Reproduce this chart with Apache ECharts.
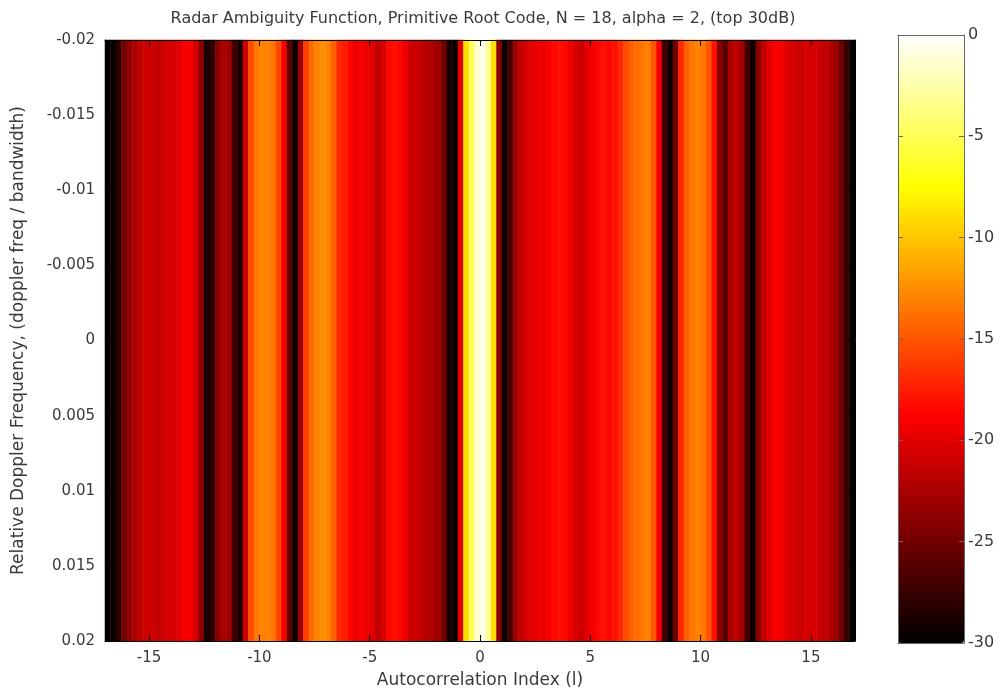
<!DOCTYPE html>
<html>
<head>
<meta charset="utf-8">
<script src="https://cdn.jsdelivr.net/npm/echarts@6/dist/echarts.min.js"></script>
<style>
html,body{margin:0;padding:0;background:#fff;}
#c{width:1006px;height:694px;}
</style>
</head>
<body>
<div id="c"></div>
<script>
// ---- data ----
// cell centres along the autocorrelation index, 0.25 apart, from -16.875 to 16.875
var xStep = 0.25;
var xCenters = [];
for (var i = 0; i < 136; i++) xCenters.push(+(-16.875 + i * xStep).toFixed(3));
var dopplerRows = ['all'];
// level in dB (top 30 dB) for each cell centre
var levelDb = [
  -30, -29.5, -28, -25,
  -23.5, -22.5, -21.5, -21,
  -21, -21.5, -21, -20.5,
  -20.5, -20, -19, -19,
  -20.5, -24, -29, -28,
  -24, -22.5, -23, -27,
  -29, -21, -15.5, -13.5,
  -13, -13, -13.5, -15.5,
  -19, -26, -29.5, -23,
  -16, -14, -13, -12.5,
  -13, -14.5, -17, -17.5,
  -18.5, -19.5, -19, -19.5,
  -20, -21.5, -20.5, -18.5,
  -18, -18.5, -19.5, -21,
  -21, -21.5, -22, -22.5,
  -23, -25, -29, -29.5,
  -20, -9, -5, -1.5,
  -0.5, -3, -9, -24,
  -29.5, -27, -23, -21.5,
  -20.5, -20, -19.5, -19.5,
  -19, -18.5, -18, -18.5,
  -19.5, -20.5, -21, -20,
  -19, -18.5, -18, -18.5,
  -18, -17, -15.5, -14.5,
  -14, -13.5, -13, -15,
  -19, -27, -29.5, -25,
  -17, -14.5, -13.5, -13,
  -13.5, -15, -18, -24,
  -26, -22.5, -21.5, -23,
  -27, -29.5, -24, -21.5,
  -20, -19, -19, -20,
  -20.5, -21, -21, -20.5,
  -20.5, -21, -21.5, -22,
  -23, -25, -27.5, -30
];
var xTicks = [-15, -10, -5, 0, 5, 10, 15];
var yTicks = [-0.02, -0.015, -0.01, -0.005, 0, 0.005, 0.01, 0.015, 0.02];
var cbTicks = [0, -5, -10, -15, -20, -25, -30];
var hotColors = ['#000000', '#550000', '#aa0000', '#ff0000', '#ff5500', '#ffaa00', '#ffff00', '#ffff80', '#ffffff'];

var heatData = [];
for (var r = 0; r < dopplerRows.length; r++) {
  for (var k = 0; k < xCenters.length; k++) heatData.push([k, r, levelDb[k]]);
}

var FONT = 'DejaVu Sans';
var TXT = '#3a3a3a';
var chart = echarts.init(document.getElementById('c'), null, {renderer: 'canvas'});
chart.setOption({
  animation: false,
  backgroundColor: '#fff',
  textStyle: {fontFamily: FONT},
  title: {
    text: 'Radar Ambiguity Function, Primitive Root Code, N = 18, alpha = 2, (top 30dB)',
    left: 478, top: 6, textAlign: 'center',
    textStyle: {fontSize: 16, fontWeight: 'normal', color: TXT, fontFamily: FONT}
  },
  grid: [
    {left: 105, right: 151, top: 40, bottom: 51, containLabel: false},
    {left: 898, width: 66, top: 35, bottom: 51, containLabel: false}
  ],
  visualMap: {
    type: 'continuous', min: -30, max: 0, seriesIndex: 0,
    calculable: false, show: true, orient: 'vertical',
    left: 898, top: 35, itemWidth: 66, itemHeight: 608, padding: 0,
    text: null, showLabel: false, z: 2,
    inRange: {color: hotColors}
  },
  xAxis: [
    {type: 'category', gridIndex: 0, data: xCenters, show: false, boundaryGap: true},
    {type: 'value', gridIndex: 0, min: -17, max: 17, position: 'bottom', z: 10,
      axisLine: {show: true, onZero: false, lineStyle: {color: '#000', width: 1}},
      axisTick: {show: true, inside: true, length: 6, customValues: xTicks, lineStyle: {color: '#000'}},
      axisLabel: {show: true, customValues: xTicks, fontSize: 15, color: TXT, margin: 10, fontFamily: FONT},
      splitLine: {show: false},
      name: 'Autocorrelation Index (l)', nameLocation: 'middle', nameGap: 31,
      nameTextStyle: {fontSize: 17, color: TXT, fontFamily: FONT}
    },
    {type: 'value', gridIndex: 0, min: -17, max: 17, position: 'top', z: 10,
      axisLine: {show: true, onZero: false, lineStyle: {color: '#000', width: 1}},
      axisTick: {show: true, inside: true, length: 6, customValues: xTicks, lineStyle: {color: '#000'}},
      axisLabel: {show: false}, splitLine: {show: false}
    },
    {type: 'value', gridIndex: 1, min: 0, max: 1, show: true, position: 'bottom', z: 10,
      axisLine: {show: true, onZero: false, lineStyle: {color: '#666'}},
      axisTick: {show: false}, axisLabel: {show: false}, splitLine: {show: false}},
    {type: 'value', gridIndex: 1, min: 0, max: 1, show: true, position: 'top', z: 10,
      axisLine: {show: true, onZero: false, lineStyle: {color: '#666'}},
      axisTick: {show: false}, axisLabel: {show: false}, splitLine: {show: false}}
  ],
  yAxis: [
    {type: 'category', gridIndex: 0, data: dopplerRows, show: false, boundaryGap: true},
    {type: 'value', gridIndex: 0, min: -0.02, max: 0.02, interval: 0.005, inverse: true, position: 'left', z: 10,
      axisLine: {show: true, onZero: false, lineStyle: {color: '#000', width: 1}},
      axisTick: {show: true, inside: true, length: 6, customValues: yTicks, lineStyle: {color: '#000'}},
      axisLabel: {show: true, customValues: yTicks, fontSize: 15, color: TXT, margin: 10, fontFamily: FONT,
        formatter: function (v) { return String(+(+v).toFixed(3)); }},
      splitLine: {show: false},
      name: 'Relative Doppler Frequency, (doppler freq / bandwidth)', nameLocation: 'middle', nameGap: 78,
      nameTextStyle: {fontSize: 17, color: TXT, fontFamily: FONT}
    },
    {type: 'value', gridIndex: 0, min: -0.02, max: 0.02, inverse: true, position: 'right', z: 10,
      axisLine: {show: true, onZero: false, lineStyle: {color: '#000', width: 1}},
      axisTick: {show: true, inside: true, length: 6, customValues: yTicks, lineStyle: {color: '#000'}},
      axisLabel: {show: false}, splitLine: {show: false}
    },
    {type: 'value', gridIndex: 1, min: -30, max: 0, interval: 5, position: 'right', z: 10,
      axisLine: {show: true, onZero: false, lineStyle: {color: '#666'}},
      axisTick: {show: true, inside: true, length: 5, customValues: cbTicks, lineStyle: {color: '#666'}},
      axisLabel: {show: true, customValues: cbTicks, fontSize: 16, color: TXT, margin: 4, fontFamily: FONT},
      splitLine: {show: false}
    },
    {type: 'value', gridIndex: 1, min: -30, max: 0, interval: 5, position: 'left', z: 10,
      axisLine: {show: true, onZero: false, lineStyle: {color: '#666'}},
      axisTick: {show: true, inside: true, length: 5, customValues: cbTicks, lineStyle: {color: '#666'}},
      axisLabel: {show: false}, splitLine: {show: false}
    }
  ],
  series: [{
    type: 'heatmap', xAxisIndex: 0, yAxisIndex: 0, data: heatData,
    itemStyle: {borderWidth: 0}, emphasis: {disabled: true}
  }]
});
</script>
</body>
</html>
